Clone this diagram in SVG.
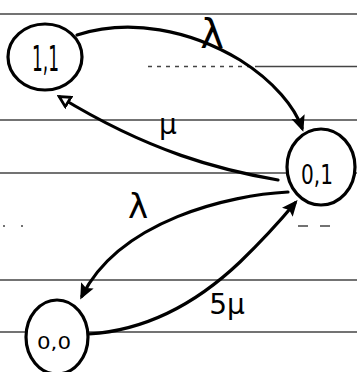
<svg xmlns="http://www.w3.org/2000/svg" width="357" height="372" viewBox="0 0 357 372">
<style>
.rule{stroke:#444;stroke-width:1.5;fill:none}
.node{fill:#fff;stroke:#000;stroke-width:3.2}
.edge{fill:none;stroke:#000;stroke-width:3.2;stroke-linecap:round}
.lbl{font-family:"DejaVu Sans",sans-serif;fill:#000}
</style>
<defs>
<marker id="arr" markerWidth="16" markerHeight="16" refX="12" refY="8" orient="auto" markerUnits="userSpaceOnUse" viewBox="0 0 16 16">
<path d="M0,1 L16,8 L0,15 L3,8 z" fill="#000"/>
</marker>
<marker id="arrOpen" markerWidth="14" markerHeight="14" refX="11" refY="7" orient="auto" markerUnits="userSpaceOnUse" viewBox="0 0 14 14">
<path d="M1.5,1.5 L12,7 L1.5,12.5 z" fill="#fff" stroke="#000" stroke-width="2.8"/>
</marker>
</defs>
<g id="ruling">
<line class="rule" x1="0" y1="14" x2="357" y2="14"/>
<line class="rule" x1="148" y1="66.5" x2="250" y2="66.5" stroke-dasharray="4,5"/>
<line class="rule" x1="255" y1="66.5" x2="357" y2="66.5"/>
<line class="rule" x1="0" y1="120" x2="357" y2="120"/>
<line class="rule" x1="0" y1="173" x2="357" y2="173"/>
<line class="rule" x1="3" y1="226" x2="25" y2="226" stroke-dasharray="2,16"/>
<line class="rule" x1="298" y1="226" x2="332" y2="226" stroke-dasharray="10,12"/>
<line class="rule" x1="0" y1="280" x2="357" y2="280"/>
<line class="rule" x1="0" y1="332" x2="357" y2="332"/>
</g>
<g id="connectors">
<path class="edge" d="M77 35 C130 18, 190 30, 240 60 C275 82, 295 108, 302 128" marker-end="url(#arr)"/>
<path class="edge" d="M278 180 C220 170, 150 152, 60 97" marker-end="url(#arrOpen)"/>
<path class="edge" d="M288 192 C230 195, 120 220, 82 296" marker-end="url(#arr)"/>
<path class="edge" d="M89 334 C150 330, 200 300, 240 262 C270 233, 285 215, 295 203" marker-end="url(#arr)"/>
</g>
<g id="node-1-1">
<ellipse class="node" cx="45" cy="57" rx="37" ry="33"/>
<text class="lbl" x="32" y="71" font-size="36" textLength="27" lengthAdjust="spacingAndGlyphs">1,1</text>
</g>
<g id="node-0-1">
<ellipse class="node" cx="321" cy="167" rx="34" ry="38"/>
<text class="lbl" x="301" y="184" font-size="26" textLength="32" lengthAdjust="spacingAndGlyphs">0,1</text>
</g>
<g id="node-0-0">
<ellipse class="node" cx="57" cy="337" rx="31" ry="37"/>
<text class="lbl" x="37" y="349" font-size="17" textLength="34" lengthAdjust="spacingAndGlyphs">0,0</text>
</g>
<g id="labels">
<text class="lbl" x="212" y="48" font-size="40" text-anchor="middle">λ</text>
<text class="lbl" x="168" y="134" font-size="28" text-anchor="middle">μ</text>
<text class="lbl" x="138" y="218" font-size="34" text-anchor="middle">λ</text>
<text class="lbl" x="227" y="314" font-size="28" text-anchor="middle">5μ</text>
</g>
</svg>
